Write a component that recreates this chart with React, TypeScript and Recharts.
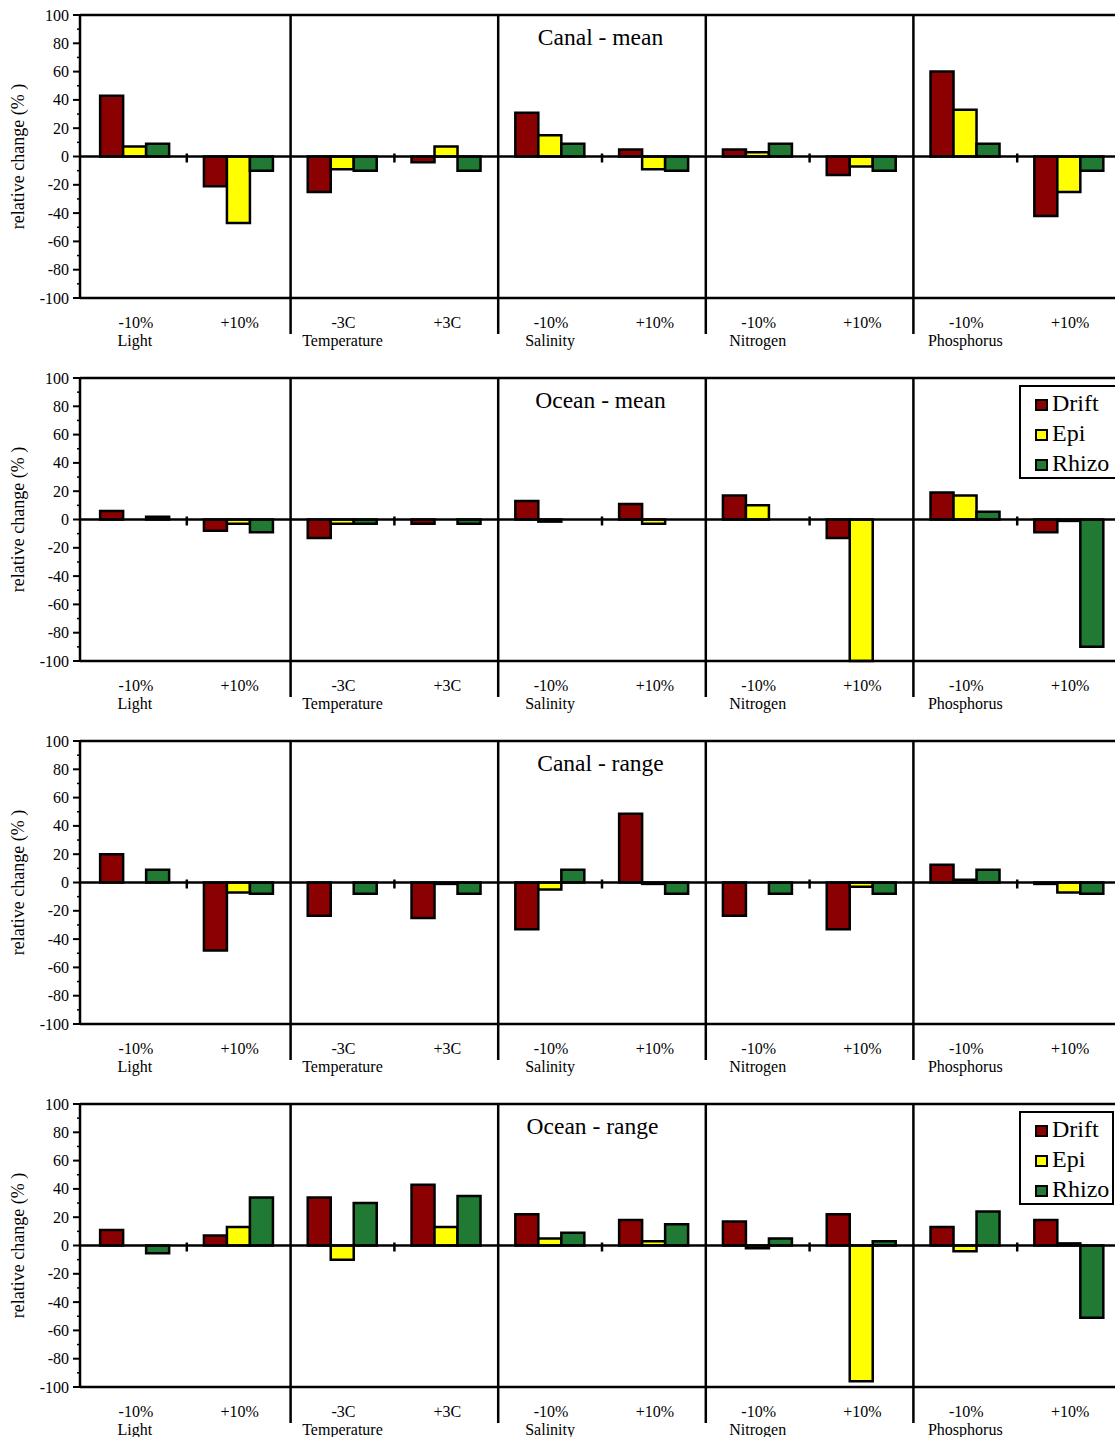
import React from 'react';
import { BarChart, Bar, XAxis, YAxis, ReferenceLine, Legend } from 'recharts';

// Treatment groups and the two levels of each
const groups = ['Light', 'Temperature', 'Salinity', 'Nitrogen', 'Phosphorus'];
const levels = ['-10%', '+10%', '-3C', '+3C', '-10%', '+10%', '-10%', '+10%', '-10%', '+10%'];
const seriesNames = ['Drift', 'Epi', 'Rhizo'];
const seriesColors = ['#8b0000', '#ffff00', '#217a33'];
const yTicks = [-100, -90, -80, -70, -60, -50, -40, -30, -20, -10, 0, 10, 20, 30, 40, 50, 60, 70, 80, 90, 100];

// Canal - mean
const canalMeanDrift = [43, -21, -25, -4, 31, 5, 5, -13, 60, -42];
const canalMeanEpi = [7, -47, -9, 7, 15, -9, 3, -7, 33, -25];
const canalMeanRhizo = [9, -10, -10, -10, 9, -10, 9, -10, 9, -10];

// Ocean - mean
const oceanMeanDrift = [6, -8, -13, -3, 13, 11, 17, -13, 19, -9];
const oceanMeanEpi = [0, -3, -3, 0, -1.5, -3, 10, -100, 17, -1];
const oceanMeanRhizo = [2, -9, -3, -3, 0, 0, 0, 0, 5.5, -90];

// Canal - range
const canalRangeDrift = [20, -48, -23.5, -25, -33, 48.5, -23.5, -33, 12.5, -1];
const canalRangeEpi = [0, -7, 0, -1, -5, -1, 0, -3, 2, -7];
const canalRangeRhizo = [9, -8, -8, -8, 9, -8, -8, -8, 9, -8];

// Ocean - range
const oceanRangeDrift = [11, 7, 34, 43, 22, 18, 17, 22, 13, 18];
const oceanRangeEpi = [0, 13, -10, 13, 5, 3, -2, -96, -4, 1.5];
const oceanRangeRhizo = [-5.5, 34, 30, 35, 9, 15, 5, 3, 24, -51];

const panels = [
  { title: 'Canal - mean', drift: canalMeanDrift, epi: canalMeanEpi, rhizo: canalMeanRhizo, legend: false, legendW: 0, titleDx: 0 },
  { title: 'Ocean - mean', drift: oceanMeanDrift, epi: oceanMeanEpi, rhizo: oceanMeanRhizo, legend: true, legendW: 99, titleDx: 0 },
  { title: 'Canal - range', drift: canalRangeDrift, epi: canalRangeEpi, rhizo: canalRangeRhizo, legend: false, legendW: 0, titleDx: 0 },
  { title: 'Ocean - range', drift: oceanRangeDrift, epi: oceanRangeEpi, rhizo: oceanRangeRhizo, legend: true, legendW: 95, titleDx: -8 },
];

const FONT = "'Liberation Serif', 'Times New Roman', Times, serif";
const PANEL_H = 363;
const CHART_W = 1131;
const MARGIN = { top: 15, right: 10, bottom: 5, left: 0 };
const Y_AXIS_W = 80;
const X_PAD = { left: 3, right: 0 };
// width of one category band on the x axis
const BAND = (CHART_W - MARGIN.left - MARGIN.right - Y_AXIS_W - X_PAD.left - X_PAD.right) / levels.length;

const buildRows = (drift: number[], epi: number[], rhizo: number[]) =>
  levels.map((lv, i) => ({
    cat: `${groups[Math.floor(i / 2)]} ${lv}`,
    Drift: drift[i],
    Epi: epi[i],
    Rhizo: rhizo[i],
  }));

const YTick = (props: any) => {
  const { x, y, payload } = props;
  const v = payload.value;
  const major = v % 20 === 0;
  return (
    <g>
      <line x1={x - (major ? 7 : 3)} x2={x} y1={y} y2={y} stroke="#000" strokeWidth={major ? 2 : 1.5} />
      {major && (
        <text x={x - 11} y={y} dy={5.5} textAnchor="end" fontFamily={FONT} fontSize={16} fill="#000">
          {v}
        </text>
      )}
    </g>
  );
};

const XTick = (props: any) => {
  const { x, y, index } = props;
  return (
    <g>
      <text x={x + 1} y={y + 29.5} textAnchor="middle" fontFamily={FONT} fontSize={16} fill="#000">
        {levels[index]}
      </text>
      {index % 2 === 0 && (
        <text x={x} y={y + 47.5} textAnchor="middle" fontFamily={FONT} fontSize={16} fill="#000">
          {groups[index / 2]}
        </text>
      )}
    </g>
  );
};

const renderYLabel = (props: any) => {
  const vb = props.viewBox || {};
  const cy = vb.y + vb.height / 2;
  return (
    <text
      x={18}
      y={cy}
      transform={`rotate(-90, 18, ${cy})`}
      textAnchor="middle"
      dominantBaseline="central"
      fontFamily={FONT}
      fontSize={18}
      fill="#000"
    >
      relative change (% )
    </text>
  );
};

const makeTitle = (title: string, dx: number) => (props: any) => {
  const vb = props.viewBox || {};
  return (
    <text
      x={vb.x + vb.width / 2 + dx}
      y={vb.y + 30}
      textAnchor="middle"
      fontFamily={FONT}
      fontSize={23.5}
      fill="#000"
    >
      {title}
    </text>
  );
};

// long separator on the left edge of a category band, running down past the tick labels
const dividerShape = (p: any) => {
  const top = Math.min(p.y1, p.y2);
  const bottom = Math.max(p.y1, p.y2);
  const x = p.x1 - BAND / 2;
  return <line x1={x} x2={x} y1={top} y2={bottom + 36} stroke="#000" strokeWidth={2.5} />;
};

// small cross tick on the zero line at the left edge of a category band
const crossTickShape = (p: any) => {
  const mid = (p.y1 + p.y2) / 2;
  const x = p.x1 - BAND / 2;
  return <line x1={x} x2={x} y1={mid - 3} y2={mid + 6} stroke="#000" strokeWidth={2.5} />;
};

const makeLegend = (boxW: number) => (props: any) => {
  const payload = props.payload || [];
  return (
    <div
      style={{
        border: '2px solid #000',
        background: '#fff',
        width: boxW,
        height: 94,
        boxSizing: 'border-box',
        padding: '1px 0 0 14px',
        fontFamily: FONT,
        fontSize: 24,
        color: '#000',
      }}
    >
      {payload.map((entry: any) => (
        <div key={entry.value} style={{ display: 'flex', alignItems: 'center', height: 30, lineHeight: '30px' }}>
          <span
            style={{
              display: 'inline-block',
              width: 13,
              height: 12,
              border: '2px solid #000',
              boxSizing: 'border-box',
              background: entry.color,
              marginRight: 4,
              marginTop: 3,
            }}
          />
          <span>{entry.value}</span>
        </div>
      ))}
    </div>
  );
};

const Panel = ({ cfg }: { cfg: (typeof panels)[number] }) => {
  const rows = buildRows(cfg.drift, cfg.epi, cfg.rhizo);
  // group separators sit before the first level of every group but the first
  const groupStarts = rows.filter((_, i) => i > 0 && i % 2 === 0).map((r) => r.cat);
  // cross ticks sit between the two levels of each group
  const secondLevels = rows.filter((_, i) => i % 2 === 1).map((r) => r.cat);
  return (
    <BarChart
      width={CHART_W}
      height={PANEL_H}
      data={rows}
      margin={MARGIN}
      barCategoryGap="16.5%"
      barGap={0}
    >
      <XAxis
        xAxisId="cat"
        dataKey="cat"
        height={60}
        interval={0}
        padding={X_PAD}
        tickSize={0}
        tickMargin={0}
        tickLine={false}
        axisLine={{ stroke: '#000', strokeWidth: 2.5 }}
        tick={<XTick />}
      />
      <YAxis
        width={Y_AXIS_W}
        domain={[-100, 100]}
        ticks={yTicks}
        interval={0}
        tickSize={0}
        tickMargin={0}
        tickLine={false}
        axisLine={{ stroke: '#000', strokeWidth: 2.5 }}
        tick={<YTick />}
        label={renderYLabel}
      />
      {seriesNames.map((name, i) => (
        <Bar
          key={name}
          xAxisId="cat"
          dataKey={name}
          fill={seriesColors[i]}
          stroke="#000"
          strokeWidth={2.5}
          isAnimationActive={false}
        />
      ))}
      <ReferenceLine xAxisId="cat" y={0} stroke="#000" strokeWidth={2.5} />
      <ReferenceLine
        xAxisId="cat"
        y={100}
        stroke="#000"
        strokeWidth={2.5}
        label={makeTitle(cfg.title, cfg.titleDx)}
      />
      {groupStarts.map((c) => (
        <ReferenceLine key={`g-${c}`} xAxisId="cat" x={c} shape={dividerShape} />
      ))}
      {secondLevels.map((c) => (
        <ReferenceLine key={`l-${c}`} xAxisId="cat" x={c} shape={crossTickShape} />
      ))}
      {cfg.legend && (
        <Legend
          layout="vertical"
          align="center"
          verticalAlign="middle"
          content={makeLegend(cfg.legendW)}
          wrapperStyle={{ left: 1019, top: 22, width: cfg.legendW }}
        />
      )}
    </BarChart>
  );
};

export default function App() {
  return (
    <div
      style={{
        position: 'absolute',
        left: 0,
        top: 0,
        width: 1115,
        height: 1437,
        overflow: 'hidden',
        background: '#fff',
      }}
    >
      {panels.map((cfg, i) => (
        <div key={cfg.title} style={{ position: 'absolute', left: 0, top: i * PANEL_H }}>
          <Panel cfg={cfg} />
        </div>
      ))}
    </div>
  );
}
